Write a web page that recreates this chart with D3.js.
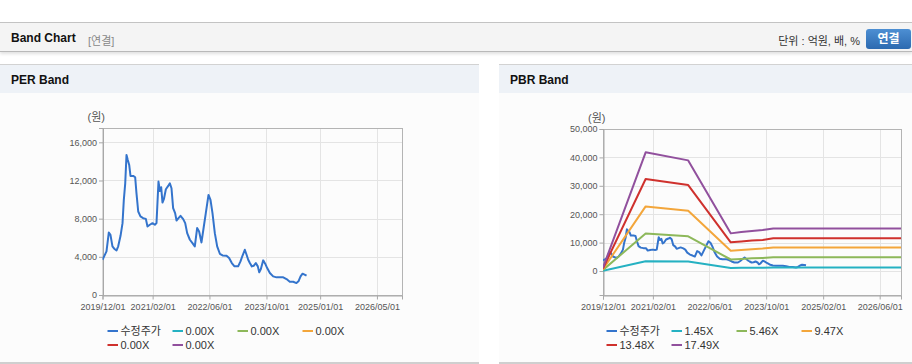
<!DOCTYPE html>
<html>
<head>
<meta charset="utf-8">
<script src="https://cdn.jsdelivr.net/npm/d3@7"></script>
<style>
  body { margin: 0; width: 912px; height: 364px; overflow: hidden; background: #fff;
    font-family: "Liberation Sans", Arial, "Noto Sans CJK KR", sans-serif; position: relative; }
  .topline { position: absolute; left: 0; top: 22px; width: 912px; height: 1px; background: #c4c4c4; }
  .header { position: absolute; left: 0; top: 23px; width: 912px; height: 28px; background: #f4f4f4;
    border-bottom: 1px solid #b9b9b9; box-shadow: 0 2px 3px rgba(0,0,0,0.12); }
  .header .title { position: absolute; left: 11px; top: 8px; font-size: 12px; font-weight: bold; color: #111; }
  .header .sub { position: absolute; left: 88px; top: 9px; font-size: 11px; color: #888; }
  .header .unit { position: absolute; right: 52px; top: 9px; font-size: 11px; color: #333; }
  .header .btn { position: absolute; left: 866px; top: 6px; width: 45px; height: 20px; border-radius: 3px;
    background: linear-gradient(#4d8fd3, #2c6ab0); color: #fff; font-size: 12px; font-weight: bold;
    text-align: center; line-height: 20px; }
  .panel { position: absolute; top: 64px; height: 297px; background: #fcfcfc;
    border-top: 1px solid #d2d2d2; border-bottom: 2px solid #cfcfcf; }
  .panel .ph { height: 28px; background: #eef2f7; }
  .panel .ph span { position: absolute; left: 11px; top: 8px; font-size: 12px; font-weight: bold; color: #111; }
  svg { position: absolute; left: 0; top: 0; }
</style>
</head>
<body>
<div class="topline"></div>
<div class="header">
  <span class="title">Band Chart</span>
  <span class="sub">[연결]</span>
  <span class="unit">단위 : 억원, 배, %</span>
  <div class="btn">연결</div>
</div>
<div class="panel" style="left:0;width:479px"><div class="ph"><span>PER Band</span></div></div>
<div class="panel" style="left:499px;width:413px"><div class="ph"><span>PBR Band</span></div></div>
<svg id="chart" width="912" height="364"></svg>
<script>
// 수정주가 (adjusted price)
const priceDates = ["2019-12-01","2019-12-21","2020-01-04","2020-01-24","2020-02-07","2020-02-24","2020-03-10","2020-03-30",
  "2020-04-13","2020-05-03","2020-05-20","2020-05-31","2020-06-12","2020-06-23","2020-07-04","2020-07-16","2020-07-27",
  "2020-08-19","2020-09-05","2020-09-16","2020-10-01","2020-10-20","2020-11-12","2020-12-05","2020-12-19","2021-01-08",
  "2021-01-31","2021-02-20","2021-03-06","2021-03-23","2021-04-04","2021-04-15","2021-04-26","2021-05-08","2021-05-25",
  "2021-06-14","2021-06-28","2021-07-12","2021-07-26","2021-08-12","2021-08-24","2021-09-10","2021-09-27","2021-10-20",
  "2021-11-06","2021-11-23","2021-12-16","2022-01-07","2022-01-27","2022-02-16","2022-03-05","2022-03-25","2022-04-14",
  "2022-05-01","2022-05-24","2022-06-10","2022-06-27","2022-07-17","2022-08-06","2022-08-29","2022-09-21","2022-10-25",
  "2022-11-16","2022-12-09","2023-01-01","2023-02-01","2023-02-21","2023-03-10","2023-03-30","2023-04-14","2023-04-28",
  "2023-05-12","2023-05-29","2023-06-15","2023-07-02","2023-07-19","2023-07-31","2023-08-14","2023-09-03","2023-09-20",
  "2023-10-07","2023-10-30","2023-11-27","2023-12-26","2024-02-21","2024-03-20","2024-04-17","2024-05-16","2024-06-13",
  "2024-06-30","2024-07-18","2024-08-04","2024-08-21","2024-09-07"];
const priceValues = [3700,4200,4570,6550,6300,5100,4850,4670,
  5100,6200,7530,9970,11700,14680,14150,13630,12480,
  12480,12340,10670,8750,8230,8050,7980,7180,7360,
  7530,7360,7530,11890,10900,11300,9690,10040,11080,
  11430,11710,11190,9100,8580,7810,8050,8300,7950,
  7530,6480,5790,5440,5090,7010,6660,5510,7180,
  8580,10490,9970,8580,6480,5090,4320,4150,4110,
  3870,3350,3000,3000,3520,4110,4740,4220,3700,
  3350,3000,3070,3350,3000,2370,2720,3630,3280,
  2820,2300,1950,1850,1850,1670,1390,1390,1250,
  1430,1950,2230,2130,2020];

// PBR band lines
const bandDates = ["2019-12-01","2020-12-01","2021-12-01","2022-12-01","2023-03-01","2023-06-01","2023-09-01","2023-12-01","2026-12-01"];
const pbrBand1 = [100, 3400, 3350, 1080, 1110, 1150, 1180, 1220, 1220];
const pbrBand2 = [380, 13200, 12200, 4050, 4250, 4450, 4600, 4800, 4800];
const pbrBand3 = [650, 22750, 21250, 7150, 7400, 7700, 7950, 8300, 8300];
const pbrBand4 = [900, 32400, 30250, 10100, 10400, 10750, 10950, 11500, 11500];
const pbrBand5 = [1200, 41800, 38950, 13250, 13700, 14100, 14400, 15000, 15000];

const seriesColors = ["#3474cc", "#25b1c2", "#8db85a", "#f3a63b", "#cf312d", "#91509d"];
const perLabels = ["수정주가", "0.00X", "0.00X", "0.00X", "0.00X", "0.00X"];
const pbrLabels = ["수정주가", "1.45X", "5.46X", "9.47X", "13.48X", "17.49X"];

const xDomain = ["2019-12-01", "2026-12-01"];
const perXTicks = ["2019-12-01", "2021-02-01", "2022-06-01", "2023-10-01", "2025-01-01", "2026-05-01"];
const pbrXTicks = ["2019-12-01", "2021-02-01", "2022-06-01", "2023-10-01", "2025-02-01", "2026-06-01"];
const perYTicks = [0, 4000, 8000, 12000, 16000];
const pbrYTicks = [0, 10000, 20000, 30000, 40000, 50000];

const parse = d3.timeParse("%Y-%m-%d");
const fmtDate = d3.timeFormat("%Y/%m/%d");
const svg = d3.select("#chart");

const price = priceDates.map(function(d, i) { return { date: parse(d), value: priceValues[i] }; });

function bandSeries(values) {
  return bandDates.map(function(d, i) { return { date: parse(d), value: values[i] }; });
}

function drawChart(opts) {
  let g = svg.append("g");

  let x = d3.scaleTime()
    .domain(xDomain.map(parse))
    .range([opts.left, opts.right]);
  let y = d3.scaleLinear()
    .domain(opts.yDomain)
    .range([opts.bottom, opts.top]);

  // grid
  g.selectAll(".hgrid")
      .data(opts.yTicks)
    .enter().append("line")
      .attr("x1", opts.left).attr("x2", opts.right)
      .attr("y1", function(d) { return Math.round(y(d)) + 0.5; })
      .attr("y2", function(d) { return Math.round(y(d)) + 0.5; })
      .style("stroke", "#e4e4e4");

  g.selectAll(".vgrid")
      .data(opts.xTicks.slice(1))
    .enter().append("line")
      .attr("x1", function(d) { return Math.round(x(parse(d))) + 0.5; })
      .attr("x2", function(d) { return Math.round(x(parse(d))) + 0.5; })
      .attr("y1", opts.top).attr("y2", opts.bottom)
      .style("stroke", "#e4e4e4");

  // frame
  g.append("rect")
    .attr("x", opts.left + 0.5).attr("y", opts.top + 0.5)
    .attr("width", opts.right - opts.left).attr("height", opts.bottom - opts.top)
    .style("fill", "none")
    .style("stroke", "#b4b4b4");

  // axes
  let yAxis = d3.axisLeft(y)
    .tickValues(opts.yTicks)
    .tickSize(4)
    .tickPadding(2)
    .tickFormat(d3.format(","));
  let xAxis = d3.axisBottom(x)
    .tickValues(opts.xTicks.map(parse))
    .tickSize(4)
    .tickPadding(4)
    .tickFormat(fmtDate);

  [g.append("g").attr("transform", "translate(" + (opts.left + 0.5) + ",0)").call(yAxis),
   g.append("g").attr("transform", "translate(0," + (opts.bottom + 0.5) + ")").call(xAxis)]
    .forEach(function(a) {
      a.select(".domain").style("stroke", "#a8a8a8");
      a.selectAll(".tick line").style("stroke", "#a8a8a8");
      a.selectAll(".tick text")
        .style("font-family", "'Liberation Sans', Arial, sans-serif")
        .style("font-size", "9px")
        .style("fill", "#555");
    });

  g.append("text")
    .attr("x", opts.left - 15).attr("y", opts.top - 7)
    .style("font-size", "11px")
    .style("fill", "#555")
    .style("font-family", "'Liberation Sans', 'Noto Sans CJK KR', sans-serif")
    .text("(원)");

  // lines
  let clipId = "clip" + Math.round(opts.left);
  svg.append("clipPath").attr("id", clipId)
    .append("rect")
      .attr("x", opts.left).attr("y", opts.top)
      .attr("width", opts.right - opts.left).attr("height", opts.bottom - opts.top);

  let line = d3.line()
    .x(function(d) { return x(d.date); })
    .y(function(d) { return y(d.value); });

  g.append("g").attr("clip-path", "url(#" + clipId + ")")
    .selectAll("path")
      .data(opts.series)
    .enter().append("path")
      .attr("d", function(d) { return line(d.values); })
      .style("fill", "none")
      .style("stroke", function(d) { return seriesColors[d.index]; })
      .style("stroke-width", 2)
      .style("stroke-linejoin", "round");

  // legend
  let legend = g.selectAll(".legend")
      .data(opts.labels)
    .enter().append("g")
      .attr("transform", function(d, i) {
        return "translate(" + (opts.legendX + (i % 4) * 65) + "," + (331 + Math.floor(i / 4) * 14) + ")";
      });
  legend.append("line")
    .attr("x1", 0).attr("x2", 10.5)
    .style("stroke", function(d, i) { return seriesColors[i]; })
    .style("stroke-width", 2);
  legend.append("text")
    .attr("x", 13).attr("dy", "0.36em")
    .style("font-family", "'Liberation Sans', Arial, 'Noto Sans CJK KR', sans-serif")
    .style("font-size", "11px")
    .style("fill", "#333")
    .text(function(d) { return d; });
}

drawChart({
  left: 102.5, right: 402, top: 128, bottom: 295,
  yDomain: [0, 17500], yTicks: perYTicks, xTicks: perXTicks,
  series: [{ index: 0, values: price }],
  labels: perLabels, legendX: 107.5
});

drawChart({
  left: 603, right: 901, top: 129, bottom: 295,
  yDomain: [-8450, 50000], yTicks: pbrYTicks, xTicks: pbrXTicks,
  series: [
    { index: 0, values: price },
    { index: 1, values: bandSeries(pbrBand1) },
    { index: 2, values: bandSeries(pbrBand2) },
    { index: 3, values: bandSeries(pbrBand3) },
    { index: 4, values: bandSeries(pbrBand4) },
    { index: 5, values: bandSeries(pbrBand5) }
  ],
  labels: pbrLabels, legendX: 606.5
});
</script>
</body>
</html>
